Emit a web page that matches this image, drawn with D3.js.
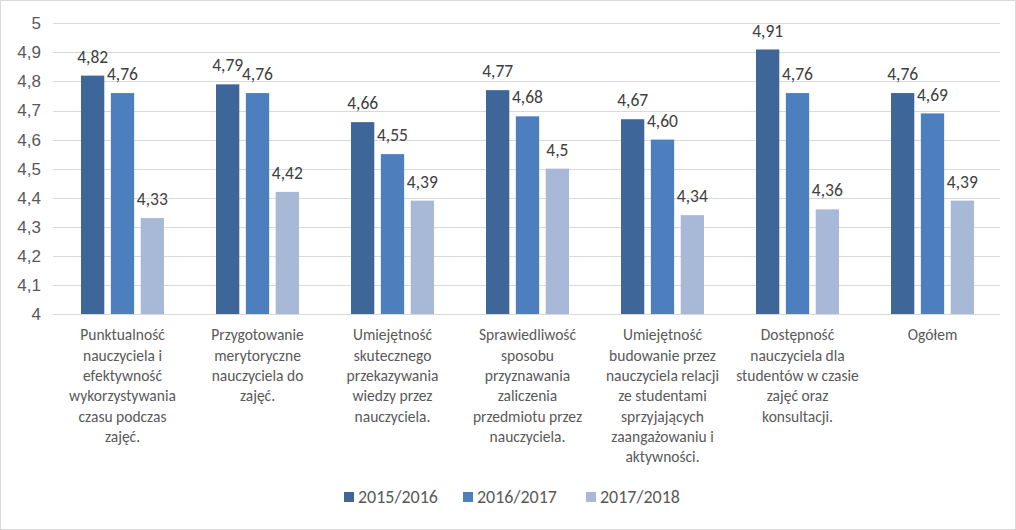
<!DOCTYPE html>
<html><head><meta charset="utf-8">
<script src="https://cdn.jsdelivr.net/npm/d3@7"></script>
<style>
html,body{margin:0;padding:0;background:#fff;}
svg{display:block;font-family:Carlito,Calibri,Lato,"Open Sans",sans-serif;}
</style></head><body>
<svg id="c" width="1016" height="530"></svg>
<script>
const categories = [
  ["Punktualność","nauczyciela i","efektywność","wykorzystywania","czasu podczas","zajęć."],
  ["Przygotowanie","merytoryczne","nauczyciela do","zajęć."],
  ["Umiejętność","skutecznego","przekazywania","wiedzy przez","nauczyciela."],
  ["Sprawiedliwość","sposobu","przyznawania","zaliczenia","przedmiotu przez","nauczyciela."],
  ["Umiejętność","budowanie przez","nauczyciela relacji","ze studentami","sprzyjających","zaangażowaniu i","aktywności."],
  ["Dostępność","nauczyciela dla","studentów w czasie","zajęć oraz","konsultacji."],
  ["Ogółem"]
];
const seriesNames = ["2015/2016","2016/2017","2017/2018"];
const s2015 = ["4,82","4,79","4,66","4,77","4,67","4,91","4,76"];
const s2016 = ["4,76","4,76","4,55","4,68","4,60","4,76","4,69"];
const s2017 = ["4,33","4,42","4,39","4,5","4,34","4,36","4,39"];
const yTicks = [4,4.1,4.2,4.3,4.4,4.5,4.6,4.7,4.8,4.9,5];
const colors = ["#3E6699","#4D7EBD","#A8B8D7"];

const series = [s2015,s2016,s2017];
const svg = d3.select("#c");
svg.append("rect").attr("x",0.5).attr("y",0.5).attr("width",1015).attr("height",529)
  .attr("fill","#fff").attr("stroke","#D9D9D9");

const x0 = d3.scaleBand().domain(d3.range(categories.length)).range([55,1000]).paddingInner(0).paddingOuter(0);
const x1 = d3.scaleBand().domain(d3.range(3)).range([26, x0.bandwidth()-26]).paddingInner(0.22).paddingOuter(0);
const y = d3.scaleLinear().domain([4,5]).range([314,23.3]);

// gridlines
svg.append("g").selectAll("line").data(yTicks).join("line")
  .attr("x1",53).attr("x2",1000)
  .attr("y1",d=>Math.round(y(d))+0.5).attr("y2",d=>Math.round(y(d))+0.5)
  .attr("stroke","#D9D9D9").attr("stroke-width",1);

// y axis labels
const yAxis = d3.axisLeft(y).tickValues(yTicks).tickSize(0).tickPadding(0)
  .tickFormat(d=>d3.format(".1~f")(d).replace(".",","));
const ga = svg.append("g").attr("transform","translate(41,0)").call(yAxis);
ga.select(".domain").remove();
ga.selectAll("text").attr("font-size",17).attr("fill","#595959").attr("font-family",null);

const num = s=>+s.replace(",",".");
const g = svg.append("g");
series.forEach((arr,si)=>{
  g.append("g").selectAll("rect").data(arr).join("rect")
    .attr("x",(d,i)=>x0(i)+x1(si))
    .attr("width",x1.bandwidth())
    .attr("y",d=>y(num(d)))
    .attr("height",d=>y(4)-y(num(d)))
    .attr("fill",colors[si]);
  g.append("g").selectAll("text").data(arr).join("text")
    .attr("x",(d,i)=>x0(i)+x1(si)+x1.bandwidth()/2)
    .attr("y",d=>y(num(d))-19)
    .attr("dy","0.35em")
    .attr("text-anchor","middle")
    .attr("font-size",17.5).attr("fill","#404040")
    .text(d=>d);
});

// x axis line
svg.append("line").attr("x1",53).attr("x2",1000).attr("y1",314.5).attr("y2",314.5).attr("stroke","#D9D9D9");

// category labels
const cl = svg.append("g");
categories.forEach((lines,i)=>{
  const t = cl.append("text").attr("text-anchor","middle").attr("font-size",15.5).attr("fill","#595959");
  lines.forEach((ln,j)=>{
    t.append("tspan").attr("x",x0(i)+x0.bandwidth()/2).attr("y",335+j*20.3).attr("dy","0.35em").text(ln);
  });
});

// legend
const legX = [344,463,586];
const lg = svg.append("g");
seriesNames.forEach((n,i)=>{
  lg.append("rect").attr("x",legX[i]).attr("y",492).attr("width",10).attr("height",10).attr("fill",colors[i]);
  lg.append("text").attr("x",legX[i]+14).attr("y",497).attr("dy","0.35em").attr("font-size",18).attr("fill","#595959").text(n);
});
</script>
</body></html>
